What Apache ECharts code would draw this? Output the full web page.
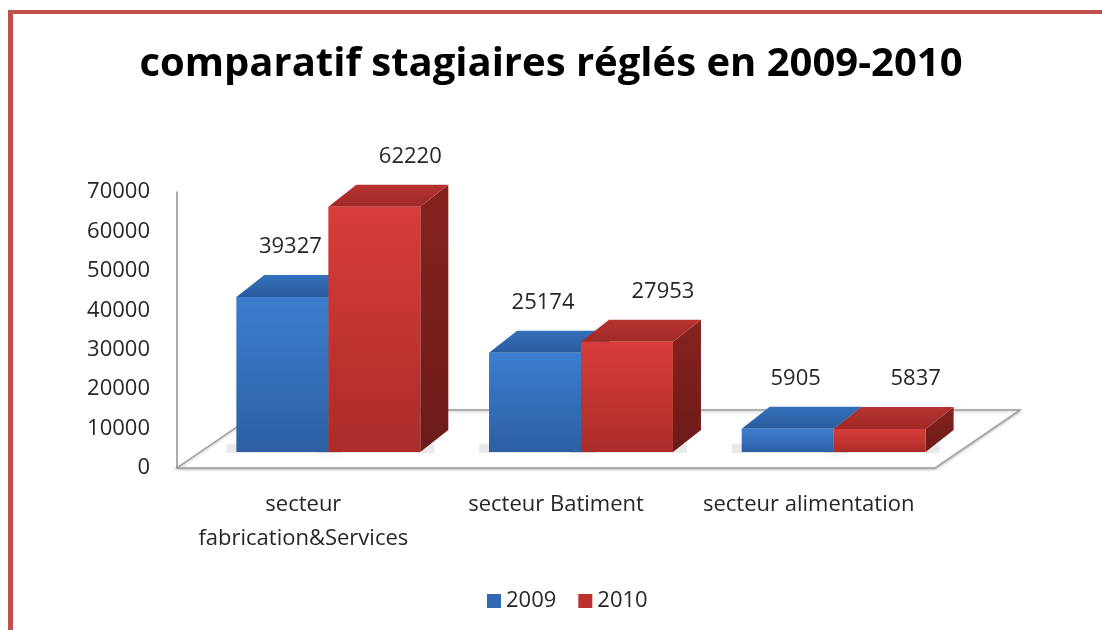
<!DOCTYPE html>
<html>
<head>
<meta charset="utf-8">
<script src="https://cdn.jsdelivr.net/npm/echarts@6/dist/echarts.min.js"></script>
<style>
html, body { margin: 0; padding: 0; background: #fff; }
#chart { position: absolute; left: 0; top: 0; width: 1102px; height: 630px; }
#edgeTop { position: absolute; left: 8px; top: 10px; width: 1094px; height: 4px; background: #c0504d; }
#edgeLeft { position: absolute; left: 8px; top: 10px; width: 5px; height: 620px; background: #c0504d; }
</style>
</head>
<body>
<div id="chart"></div>
<div id="edgeTop"></div>
<div id="edgeLeft"></div>
<script>
var categories = ['secteur\nfabrication&Services', 'secteur Batiment', 'secteur alimentation'];
var years = ['2009', '2010'];
var values2009 = [39327, 25174, 5905];
var values2010 = [62220, 27953, 5837];

// 3d look (pixels)
var SHIFT_X = 25, SHIFT_Y = 16;   // bars sit a bit inside the floor
var DEPTH_X = 28, DEPTH_Y = 22;   // bar depth
var FLOOR_X = 85, FLOOR_Y = 58;   // floor depth
var BAR_RATIO = 0.364;
var LABEL_DX = [8, 36];
var FONT = "'Open Sans', sans-serif";

var colors = [
    { legend: '#3068b4', front: ['#3d7ed0', '#2c5fa3'], top: ['#3470bd', '#2a5c9c'], side: ['#27599a', '#1f4a82'] },
    { legend: '#bd302d', front: ['#d83d3a', '#ab2c29'], top: ['#b83330', '#a02a27'], side: ['#86231f', '#6c1b19'] }
];

function grad(c) {
    return { type: 'linear', x: 0, y: 0, x2: 0, y2: 1, colorStops: [{ offset: 0, color: c[0] }, { offset: 1, color: c[1] }] };
}

function makeBar(side) {
    return function (params, api) {
        var cat = api.value(0), val = api.value(1);
        var p0 = api.coord([cat, 0]);
        var p1 = api.coord([cat, val]);
        var band = api.size([1, 0])[0];
        var w = band * BAR_RATIO;
        var left = p0[0] + SHIFT_X - (side === 0 ? w : 0);
        var right = left + w;
        var bottom = p0[1] - SHIFT_Y;
        var top = p1[1] - SHIFT_Y;
        var c = colors[side];
        return {
            type: 'group',
            children: [
                {
                    type: 'rect', z2: 0,
                    shape: { x: left - 10, y: bottom - 8, width: w + DEPTH_X - 4, height: 9 },
                    style: { fill: 'rgba(0,0,0,0.08)', shadowBlur: 14, shadowColor: 'rgba(0,0,0,0.30)' }
                },
                {
                    type: 'polygon', z2: 10,
                    shape: { points: [[right, top], [right + DEPTH_X, top - DEPTH_Y], [right + DEPTH_X, bottom - DEPTH_Y], [right, bottom]] },
                    style: { fill: grad(c.side) }
                },
                {
                    type: 'polygon', z2: 10,
                    shape: { points: [[left, top], [left + DEPTH_X, top - DEPTH_Y], [right + DEPTH_X, top - DEPTH_Y], [right, top]] },
                    style: { fill: grad(c.top) }
                },
                {
                    type: 'rect', z2: 11,
                    shape: { x: left, y: top, width: w, height: bottom - top },
                    style: { fill: grad(c.front) }
                },
                {
                    type: 'text', z2: 12,
                    style: {
                        text: String(val), x: (left + right) / 2 + LABEL_DX[side], y: top - 50,
                        fill: '#262626', font: '22px ' + FONT, align: 'center', verticalAlign: 'middle'
                    }
                }
            ]
        };
    };
}

function renderFloor(params, api) {
    var cs = params.coordSys;
    var x = cs.x, y = cs.y + cs.height, w = cs.width;
    return {
        type: 'polygon',
        shape: { points: [[x, y], [x + w, y], [x + w + FLOOR_X, y - FLOOR_Y], [x + FLOOR_X, y - FLOOR_Y]] },
        style: { fill: '#ffffff', stroke: '#9d9d9d', lineWidth: 1.5, shadowBlur: 3, shadowColor: 'rgba(0,0,0,0.25)', shadowOffsetY: 1 }
    };
}

var chart = echarts.init(document.getElementById('chart'));

chart.setOption({
    animation: false,
    title: {
        text: 'comparatif stagiaires réglés en 2009-2010',
        left: 'center',
        top: 40,
        textStyle: { fontFamily: FONT, fontWeight: 'bold', fontSize: 40, color: '#000' }
    },
    legend: {
        data: years,
        left: 482,
        top: 585,
        icon: 'rect',
        itemWidth: 14,
        itemHeight: 14,
        itemGap: 22,
        textStyle: { fontFamily: FONT, fontSize: 22, color: '#262626' }
    },
    grid: { left: 177, right: 167, top: 192, bottom: 162 },
    xAxis: {
        type: 'category',
        data: categories,
        axisLine: { show: false },
        axisTick: { show: false },
        axisLabel: { interval: 0, margin: 20, fontFamily: FONT, fontSize: 22, lineHeight: 34, color: '#262626', verticalAlign: 'top' }
    },
    yAxis: {
        type: 'value',
        min: 0,
        max: 70000,
        interval: 10000,
        splitLine: { show: false },
        axisTick: { show: false },
        axisLine: { show: true, lineStyle: { color: '#8f8f8f', width: 1.5 } },
        axisLabel: { margin: 27, fontFamily: FONT, fontSize: 22, color: '#262626', formatter: function (v) { return String(v); } }
    },
    series: [
        {
            name: 'floor', type: 'custom', z: 1, silent: true,
            renderItem: renderFloor,
            data: [[0, 0]]
        },
        {
            name: years[0], type: 'custom', z: 2,
            itemStyle: { color: colors[0].legend },
            renderItem: makeBar(0),
            encode: { x: 0, y: 1 },
            data: values2009.map(function (v, i) { return [i, v]; })
        },
        {
            name: years[1], type: 'custom', z: 2,
            itemStyle: { color: colors[1].legend },
            renderItem: makeBar(1),
            encode: { x: 0, y: 1 },
            data: values2010.map(function (v, i) { return [i, v]; })
        }
    ]
});
</script>
</body>
</html>
